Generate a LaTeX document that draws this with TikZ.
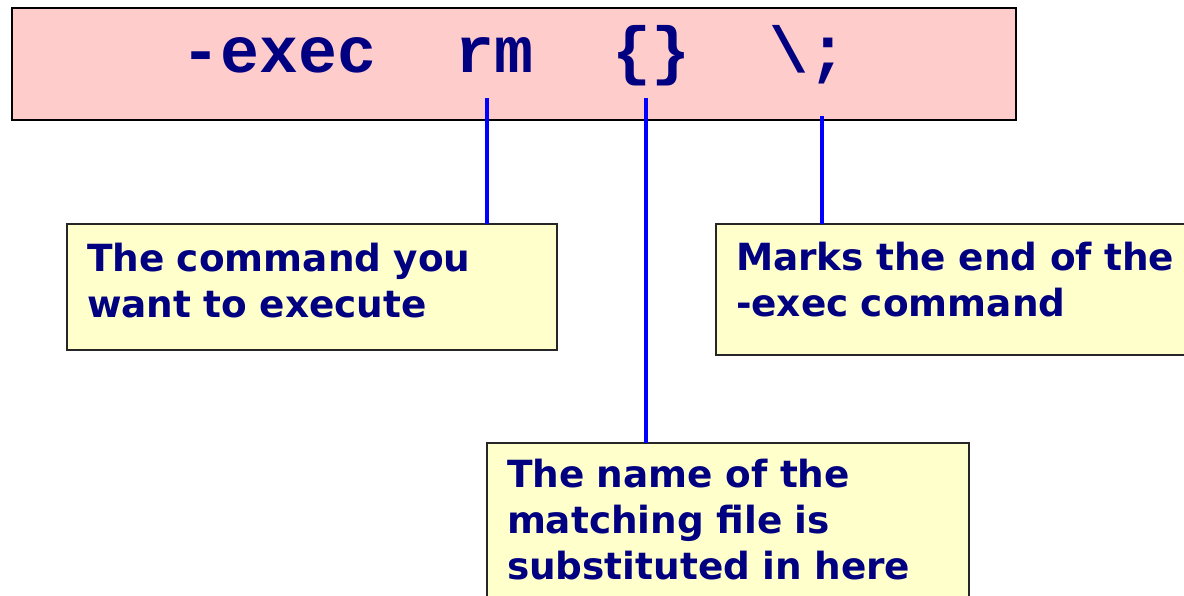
\documentclass[tikz,border=0pt]{standalone}
\usepackage{fontspec}
\usepackage{tikz}
\usetikzlibrary{positioning}
\setmonofont{Liberation Mono}
\newfontfamily\notefont{DejaVu Sans}
\definecolor{NoteNavy}{RGB}{0, 0, 128}
\definecolor{BarPink}{RGB}{255, 204, 204}
\definecolor{NoteYellow}{RGB}{255, 255, 204}
\definecolor{LinkBlue}{RGB}{0, 0, 255}

\begin{document}
\begin{tikzpicture}[
    x=0.5pt, y=-0.5pt,
    cmdbar/.style={rectangle, anchor=north west, draw=black, line width=1pt, fill=BarPink, inner sep=0pt, outer sep=0pt, minimum width=502pt, minimum height=56pt},
    cmdword/.style={anchor=base west, inner sep=0pt, text=NoteNavy, font=\ttfamily\bfseries\fontsize{32.5}{36}\selectfont},
    note/.style={rectangle, anchor=north west, draw=black!85, line width=0.8pt, fill=NoteYellow, text=NoteNavy, align=left, inner xsep=10pt, inner ysep=0pt, outer sep=0pt, font=\notefont\bfseries\fontsize{18.7}{23}\selectfont},
    link/.style={draw=LinkBlue, line width=1.6pt}
]
\useasboundingbox (0,0) rectangle (1184,595);
\clip (0,0) rectangle (1184,595);

% Command bar
\node[cmdbar] (bar) at (12,8) {};
\node[cmdword] (execword) at (181,72) {-exec};
\node[cmdword] (rmword) at (455,72) {rm};
\node[cmdword] (braceword) at (612,72) {\{\}};
\node[cmdword] (semiword) at (769,72) {\textbackslash;};

% Notes
\node[note, text width=225pt, text height=23.5pt, text depth=39.5pt] (cmdnote) at (67,224)
    {The command you\\want to execute};
\node[note, text width=240pt, text height=23pt, text depth=42.5pt] (endnote) at (716,224)
    {Marks the end of the\\-exec command};
\node[note, text width=221pt, text height=22pt, text depth=66pt] (namenote) at (487,443)
    {The name of the\\matching file is\\substituted in here};

% Connectors
\coordinate (rmfoot) at (487,98);
\coordinate (bracefoot) at (646,98);
\coordinate (semifoot) at (822,116);
\draw[link] (rmfoot) -- (rmfoot |- cmdnote.north);
\draw[link] (bracefoot) -- (bracefoot |- namenote.north);
\draw[link] (semifoot) -- (semifoot |- endnote.north);

\end{tikzpicture}
\end{document}
